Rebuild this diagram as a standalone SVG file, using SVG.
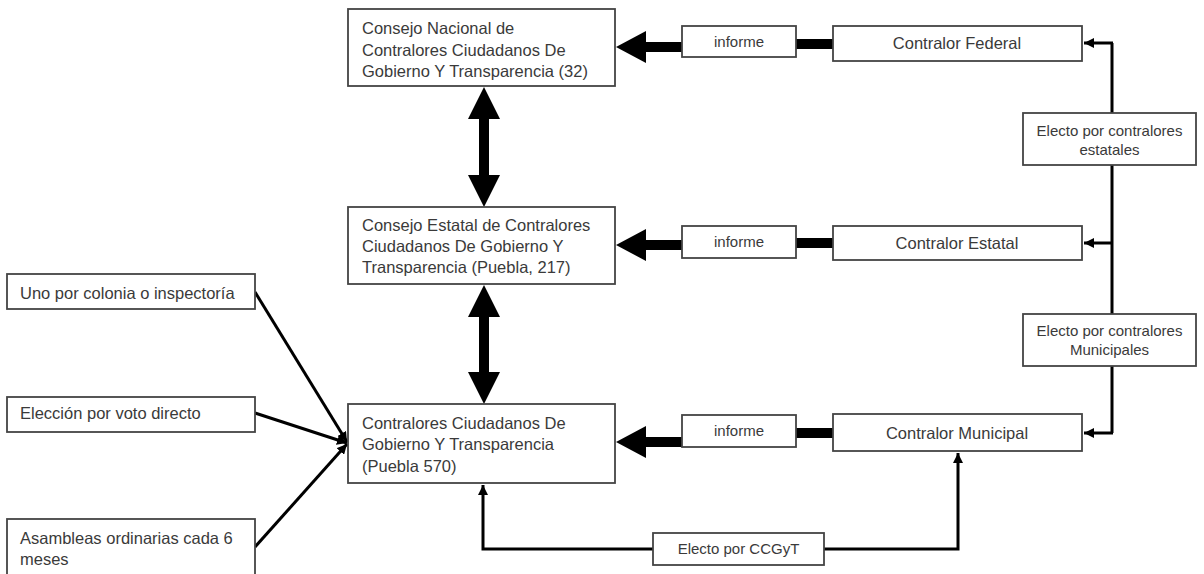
<svg xmlns="http://www.w3.org/2000/svg" width="1204" height="574" viewBox="0 0 1204 574">
<style>
.box{fill:#fff;stroke:#444;stroke-width:1.8}
.t{font-family:"Liberation Sans",Arial,sans-serif;font-size:16.5px;fill:#3a3a3a}
.s{font-family:"Liberation Sans",Arial,sans-serif;font-size:15px;fill:#3a3a3a}
.c{text-anchor:middle}
.ln{fill:none;stroke:#000;stroke-width:3}
.thick{fill:#000;stroke:none}
</style>
<defs>
<marker id="arr" markerUnits="userSpaceOnUse" markerWidth="11" markerHeight="10" refX="10" refY="5" orient="auto">
<path d="M0,0 L10,5 L0,10 z" fill="#000"/>
</marker>
</defs>
<rect width="1204" height="574" fill="#fff"/>
<g id="connectors">
<polygon class="thick" points="682,42 646,42 646,31 616,47 646,63 646,52 682,52"/>
<rect class="thick" x="796" y="39" width="37" height="10"/>
<polygon class="thick" points="682,240 646,240 646,229 616,245 646,261 646,250 682,250"/>
<rect class="thick" x="796" y="238" width="37" height="10"/>
<polygon class="thick" points="682,437 646,437 646,426 616,442 646,458 646,447 682,447"/>
<rect class="thick" x="796" y="428" width="37" height="10"/>
<polygon class="thick" points="484,87 500,119 489,119 489,175 500,175 484,207 468,175 479,175 479,119 468,119"/>
<polygon class="thick" points="484,285 500,317 489,317 489,372 500,372 484,404 468,372 479,372 479,317 468,317"/>
<path class="ln" d="M1112,43 V433"/>
<path class="ln" d="M1113,43 H1084" marker-end="url(#arr)"/>
<path class="ln" d="M1113,243 H1084" marker-end="url(#arr)"/>
<path class="ln" d="M1113,433 H1084" marker-end="url(#arr)"/>
<path class="ln" d="M653,549 H483 V485" marker-end="url(#arr)"/>
<path class="ln" d="M824,549 H958 V453" marker-end="url(#arr)"/>
<path class="ln" d="M255,292 L347,442" marker-end="url(#arr)"/>
<path class="ln" d="M255,413 L347,443" marker-end="url(#arr)"/>
<path class="ln" d="M255,547 L347,444" marker-end="url(#arr)"/>
</g>
<g id="consejo-nacional">
<rect class="box" x="348" y="9" width="267" height="77"/>
<text class="t" x="362" y="34">Consejo Nacional de</text>
<text class="t" x="362" y="56">Contralores Ciudadanos De</text>
<text class="t" x="362" y="77">Gobierno Y Transparencia (32)</text>
</g>
<g id="consejo-estatal">
<rect class="box" x="348" y="207" width="267" height="77"/>
<text class="t" x="362" y="231">Consejo Estatal de Contralores</text>
<text class="t" x="362" y="252">Ciudadanos De Gobierno Y</text>
<text class="t" x="362" y="273">Transparencia (Puebla, 217)</text>
</g>
<g id="contralores-ciudadanos">
<rect class="box" x="348" y="404" width="267" height="79"/>
<text class="t" x="362" y="429">Contralores Ciudadanos De</text>
<text class="t" x="362" y="450">Gobierno Y Transparencia</text>
<text class="t" x="362" y="472">(Puebla 570)</text>
</g>
<g id="informe-1">
<rect class="box" x="682" y="26" width="114" height="31"/>
<text class="s c" x="739" y="47">informe</text>
</g>
<g id="informe-2">
<rect class="box" x="682" y="226" width="114" height="32"/>
<text class="s c" x="739" y="247">informe</text>
</g>
<g id="informe-3">
<rect class="box" x="682" y="415" width="114" height="32"/>
<text class="s c" x="739" y="436">informe</text>
</g>
<g id="contralor-federal">
<rect class="box" x="833" y="26" width="249" height="35"/>
<text class="t c" x="957" y="49">Contralor Federal</text>
</g>
<g id="contralor-estatal">
<rect class="box" x="833" y="226" width="249" height="34"/>
<text class="t c" x="957" y="249">Contralor Estatal</text>
</g>
<g id="contralor-municipal">
<rect class="box" x="833" y="414" width="249" height="37"/>
<text class="t c" x="957" y="439">Contralor Municipal</text>
</g>
<g id="electo-estatales">
<rect class="box" x="1023" y="113" width="173" height="52"/>
<text class="s c" x="1109.5" y="136">Electo por contralores</text>
<text class="s c" x="1109.5" y="155">estatales</text>
</g>
<g id="electo-municipales">
<rect class="box" x="1023" y="314" width="173" height="52"/>
<text class="s c" x="1109.5" y="336">Electo por contralores</text>
<text class="s c" x="1109.5" y="355">Municipales</text>
</g>
<g id="electo-ccgyt">
<rect class="box" x="653" y="533" width="171" height="32"/>
<text class="s c" x="738.5" y="554">Electo por CCGyT</text>
</g>
<g id="uno-por-colonia">
<rect class="box" x="7" y="274" width="248" height="35"/>
<text class="t" x="20" y="299">Uno por colonia o inspectoría</text>
</g>
<g id="eleccion">
<rect class="box" x="7" y="397" width="248" height="35"/>
<text class="t" x="20" y="419">Elección por voto directo</text>
</g>
<g id="asambleas">
<rect class="box" x="7" y="519" width="248" height="70"/>
<text class="t" x="20" y="544">Asambleas ordinarias cada 6</text>
<text class="t" x="20" y="565">meses</text>
</g>
</svg>
